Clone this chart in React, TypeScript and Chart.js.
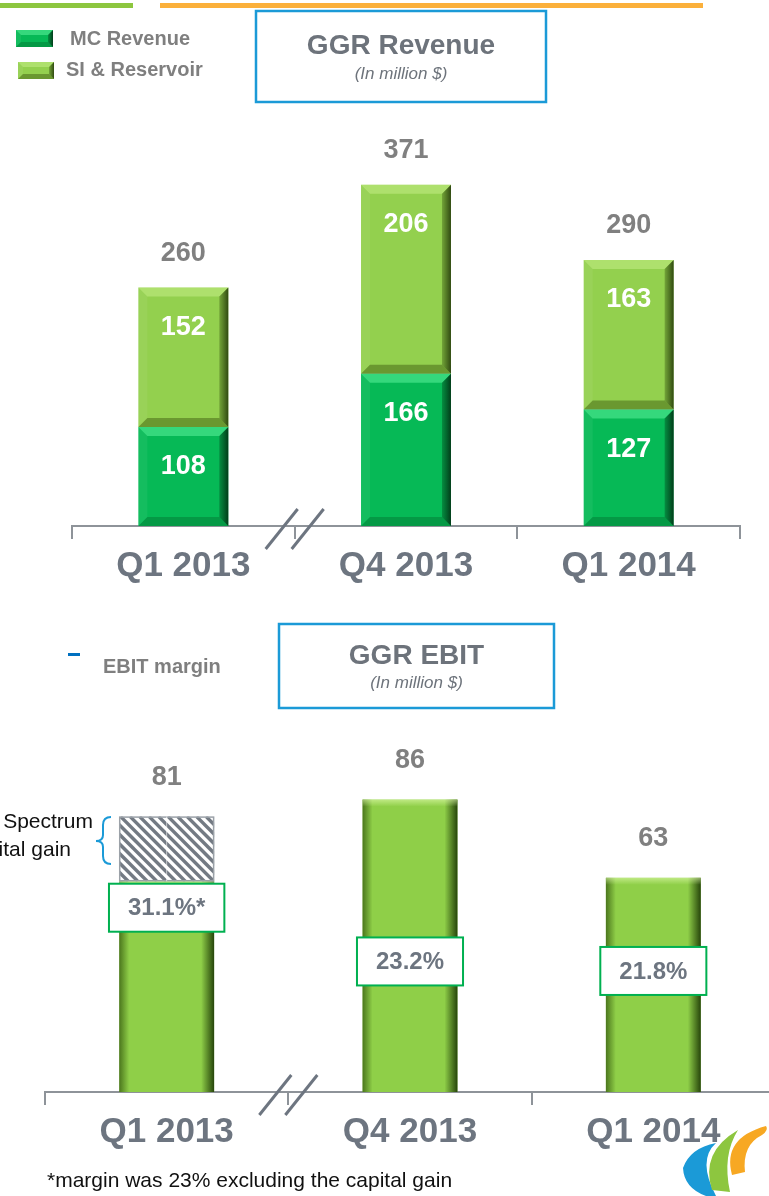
import React, { useEffect, useRef } from "react";
import { Chart, registerables } from "chart.js";

Chart.register(...registerables);

// ---------- data ----------
const quarters = ["Q1 2013", "Q4 2013", "Q1 2014"];
const mcRevenue = [108, 166, 127];
const siReservoir = [152, 206, 163];
const revenueTotals = [260, 371, 290];
const ebitCore = [62, 86, 63];
const ebitCapitalGain = [19, 0, 0];
const ebitTotals = [81, 86, 63];
const ebitMargin = [31.1, 23.2, 21.8];
const ebitMarginLabels = ["31.1%*", "23.2%", "21.8%"];
const revenueLegend = ["MC Revenue", "SI & Reservoir"];
const ebitLegend = ["EBIT margin"];
const revenueTitle = ["GGR Revenue", "(In million $)"];
const ebitTitle = ["GGR EBIT", "(In million $)"];
const capitalGainNote = ["Spectrum", "Capital gain"];
const footnote = "*margin was 23% excluding the capital gain";

// ---------- styles ----------
const FONT = '"Liberation Sans", Arial, Helvetica, sans-serif';
const AXIS_GRAY = "#8e9399";
const LABEL_GRAY = "#6d7580";
const VALUE_GRAY = "#808080";
const LEGEND_GRAY = "#7f7f7f";
const MC_GREEN = "#06b956";
const SI_GREEN = "#93d04e";
const EBIT_GREEN = "#8fcf48";
const BLUE = "#1b9ad7";
const BOX_GREEN = "#00b050";

const MC_BEVEL = {
  top: "rgba(110,255,170,0.45)",
  left: "rgba(255,255,255,0.06)",
  bottom: "rgba(0,40,10,0.22)",
  right0: "rgba(0,40,15,0.30)",
  right1: "rgba(0,25,8,0.78)",
};
const SI_BEVEL = {
  top: "rgba(225,255,170,0.35)",
  left: "rgba(255,255,255,0.06)",
  bottom: "rgba(40,60,0,0.38)",
  right0: "rgba(30,50,0,0.28)",
  right1: "rgba(20,35,0,0.78)",
};

function barBox(el: any) {
  const p = el.getProps(["x", "y", "base", "width"], true);
  const l = p.x - p.width / 2;
  const r = p.x + p.width / 2;
  const t = Math.min(p.y, p.base);
  const b = Math.max(p.y, p.base);
  return { l, r, t, b, cx: p.x };
}

function bevel(ctx: CanvasRenderingContext2D, l: number, t: number, r: number, b: number, s: number, o: any) {
  const h = b - t;
  if (h <= 0.5) return;
  const ss = Math.min(s, h / 2, (r - l) / 2);
  ctx.save();
  ctx.fillStyle = o.top;
  ctx.beginPath();
  ctx.moveTo(l, t); ctx.lineTo(r, t); ctx.lineTo(r - ss, t + ss); ctx.lineTo(l + ss, t + ss);
  ctx.closePath(); ctx.fill();
  ctx.fillStyle = o.left;
  ctx.beginPath();
  ctx.moveTo(l, t); ctx.lineTo(l + ss, t + ss); ctx.lineTo(l + ss, b - ss); ctx.lineTo(l, b);
  ctx.closePath(); ctx.fill();
  ctx.fillStyle = o.bottom;
  ctx.beginPath();
  ctx.moveTo(l, b); ctx.lineTo(l + ss, b - ss); ctx.lineTo(r - ss, b - ss); ctx.lineTo(r, b);
  ctx.closePath(); ctx.fill();
  const g = ctx.createLinearGradient(r - ss, 0, r, 0);
  g.addColorStop(0, o.right0);
  g.addColorStop(1, o.right1);
  ctx.fillStyle = g;
  ctx.beginPath();
  ctx.moveTo(r, t); ctx.lineTo(r, b); ctx.lineTo(r - ss, b - ss); ctx.lineTo(r - ss, t + ss);
  ctx.closePath(); ctx.fill();
  ctx.restore();
}

function text(ctx: CanvasRenderingContext2D, s: string, x: number, y: number, font: string, color: string, align: CanvasTextAlign = "center") {
  ctx.save();
  ctx.font = font;
  ctx.fillStyle = color;
  ctx.textAlign = align;
  ctx.textBaseline = "middle";
  ctx.fillText(s, x, y);
  ctx.restore();
}

function breakMarks(ctx: CanvasRenderingContext2D, cx: number, axisY: number) {
  ctx.save();
  ctx.strokeStyle = LABEL_GRAY;
  ctx.lineWidth = 3;
  [-13, 13].forEach((d) => {
    ctx.beginPath();
    ctx.moveTo(cx + d - 16, axisY + 23);
    ctx.lineTo(cx + d + 16, axisY - 17);
    ctx.stroke();
  });
  ctx.restore();
}

function titleBox(ctx: CanvasRenderingContext2D, x: number, y: number, w: number, h: number, lines: string[]) {
  ctx.save();
  ctx.fillStyle = "#ffffff";
  ctx.fillRect(x, y, w, h);
  ctx.strokeStyle = BLUE;
  ctx.lineWidth = 2.5;
  ctx.strokeRect(x, y, w, h);
  ctx.restore();
  const cx = x + w / 2;
  text(ctx, lines[0], cx, y + h * 0.39, `bold 28px ${FONT}`, "#6d737b");
  text(ctx, lines[1], cx, y + h * 0.7, `italic 17px ${FONT}`, "#6d737b");
}

function xAxisOptions() {
  return {
    stacked: true,
    offset: true,
    grid: { offset: true, drawOnChartArea: false, drawTicks: true, tickLength: 13, color: AXIS_GRAY, lineWidth: 2 },
    border: { display: true, color: AXIS_GRAY, width: 2 },
    ticks: {
      font: { family: FONT, size: 35, weight: "bold" },
      color: LABEL_GRAY,
      padding: 6,
      autoSkip: false,
      maxRotation: 0,
    },
  };
}

export default function App() {
  const topRef = useRef<HTMLCanvasElement>(null);
  const botRef = useRef<HTMLCanvasElement>(null);

  useEffect(() => {
    // ---------- revenue chart ----------
    const revenuePlugin = {
      id: "revenueDecor",
      afterDatasetsDraw(chart: any) {
        const ctx = chart.ctx;
        [0, 1].forEach((di) => {
          const meta = chart.getDatasetMeta(di);
          meta.data.forEach((el: any) => {
            const bx = barBox(el);
            bevel(ctx, bx.l, bx.t, bx.r, bx.b, 9, di === 0 ? MC_BEVEL : SI_BEVEL);
          });
        });
      },
      afterDraw(chart: any) {
        const ctx = chart.ctx;
        // header rules
        ctx.fillStyle = "#8dc63f";
        ctx.fillRect(0, 3, 133, 5);
        ctx.fillStyle = "#fbb03b";
        ctx.fillRect(160, 3, 543, 5);
        // legend
        ctx.fillStyle = MC_GREEN;
        ctx.fillRect(16, 30, 37, 17);
        bevel(ctx, 16, 30, 53, 47, 5, MC_BEVEL);
        ctx.fillStyle = SI_GREEN;
        ctx.fillRect(18, 62, 36, 17);
        bevel(ctx, 18, 62, 54, 79, 5, SI_BEVEL);
        text(ctx, revenueLegend[0], 70, 39, `bold 20px ${FONT}`, LEGEND_GRAY, "left");
        text(ctx, revenueLegend[1], 66, 70, `bold 20px ${FONT}`, LEGEND_GRAY, "left");
        // title
        titleBox(ctx, 256, 11, 290, 91, revenueTitle);
        // segment values
        const m0 = chart.getDatasetMeta(0);
        const m1 = chart.getDatasetMeta(1);
        const series = [mcRevenue, siReservoir];
        [m0, m1].forEach((meta: any, di: number) => {
          meta.data.forEach((el: any, i: number) => {
            const bx = barBox(el);
            text(ctx, String(series[di][i]), bx.cx, bx.t + 40, `bold 27px ${FONT}`, "#ffffff");
          });
        });
        // totals
        m1.data.forEach((el: any, i: number) => {
          const bx = barBox(el);
          text(ctx, String(revenueTotals[i]), bx.cx, bx.t - 34, `bold 27px ${FONT}`, VALUE_GRAY);
        });
        // break marks
        const xs = chart.scales.x;
        const cx = (xs.getPixelForValue(0) + xs.getPixelForValue(1)) / 2;
        breakMarks(ctx, cx, chart.chartArea.bottom);
      },
    };

    const topChart = new Chart(topRef.current as HTMLCanvasElement, {
      type: "bar",
      data: {
        labels: quarters,
        datasets: [
          { label: revenueLegend[0], data: mcRevenue, backgroundColor: MC_GREEN, borderWidth: 0 },
          { label: revenueLegend[1], data: siReservoir, backgroundColor: SI_GREEN, borderWidth: 0 },
        ],
      },
      options: {
        animation: false,
        responsive: false,
        maintainAspectRatio: false,
        devicePixelRatio: 1,
        layout: { padding: { top: 159, left: 72, right: 29, bottom: 0 } },
        plugins: { legend: { display: false }, tooltip: { enabled: false } },
        datasets: { bar: { categoryPercentage: 1, barPercentage: 0.404 } },
        scales: {
          x: { ...xAxisOptions(), afterFit: (s: any) => { s.height = 74; } },
          y: { stacked: true, display: false, min: 0, max: 400 },
        },
      } as any,
      plugins: [revenuePlugin],
    });

    // ---------- EBIT chart ----------
    const botCanvas = botRef.current as HTMLCanvasElement;

    const ebitPlugin = {
      id: "ebitDecor",
      afterDatasetsDraw(chart: any) {
        const ctx = chart.ctx;
        chart.getDatasetMeta(0).data.forEach((el: any) => {
          const { l, r, t, b } = barBox(el);
          if (b - t < 1) return;
          ctx.save();
          const gl = ctx.createLinearGradient(l, 0, l + 10, 0);
          gl.addColorStop(0, "rgba(30,60,0,0.6)");
          gl.addColorStop(1, "rgba(30,60,0,0)");
          ctx.fillStyle = gl;
          ctx.fillRect(l, t, 10, b - t);
          const gr = ctx.createLinearGradient(r - 13, 0, r, 0);
          gr.addColorStop(0, "rgba(20,45,0,0)");
          gr.addColorStop(1, "rgba(20,45,0,0.85)");
          ctx.fillStyle = gr;
          ctx.fillRect(r - 13, t, 13, b - t);
          const gt = ctx.createLinearGradient(0, t, 0, t + 7);
          gt.addColorStop(0, "rgba(230,255,180,0.55)");
          gt.addColorStop(1, "rgba(230,255,180,0)");
          ctx.fillStyle = gt;
          ctx.fillRect(l, t, r - l, 7);
          ctx.restore();
        });
        // hatched capital gain segment
        chart.getDatasetMeta(1).data.forEach((el: any) => {
          const { l, r, t, b } = barBox(el);
          if (b - t < 1) return;
          ctx.save();
          ctx.beginPath();
          ctx.rect(l, t, r - l, b - t);
          ctx.clip();
          ctx.fillStyle = "#ffffff";
          ctx.fillRect(l, t, r - l, b - t);
          ctx.strokeStyle = "#737a83";
          ctx.lineWidth = 3.4;
          const h = b - t;
          for (let x0 = l - h - 10; x0 < r + 10; x0 += 9.5) {
            ctx.beginPath();
            ctx.moveTo(x0, t);
            ctx.lineTo(x0 + h, b);
            ctx.stroke();
          }
          ctx.restore();
          ctx.save();
          ctx.strokeStyle = "#9ba1a8";
          ctx.lineWidth = 1.5;
          ctx.strokeRect(l + 0.5, t + 0.5, r - l - 1, b - t - 1);
          ctx.strokeStyle = "rgba(255,255,255,0.6)";
          ctx.lineWidth = 1;
          ctx.beginPath();
          ctx.moveTo((l + r) / 2, t);
          ctx.lineTo((l + r) / 2, b);
          ctx.stroke();
          ctx.restore();
        });
      },
      afterDraw(chart: any) {
        const ctx = chart.ctx;
        // legend
        ctx.fillStyle = "#0070c0";
        ctx.fillRect(68, 53, 12, 3);
        text(ctx, ebitLegend[0], 103, 67, `bold 20px ${FONT}`, LEGEND_GRAY, "left");
        // title
        titleBox(ctx, 279, 24, 275, 84, ebitTitle);
        // totals
        const m0 = chart.getDatasetMeta(0);
        const m1 = chart.getDatasetMeta(1);
        m0.data.forEach((el: any, i: number) => {
          const a = barBox(el);
          const c = barBox(m1.data[i]);
          const top = Math.min(a.t, c.t);
          text(ctx, String(ebitTotals[i]), a.cx, top - 39, `bold 27px ${FONT}`, VALUE_GRAY);
        });
        // margin boxes
        const m2 = chart.getDatasetMeta(2);
        m2.data.forEach((pt: any, i: number) => {
          const { x, y } = pt.getProps(["x", "y"], true);
          ctx.save();
          ctx.font = `bold 24px ${FONT}`;
          const w = ctx.measureText(ebitMarginLabels[i]).width + 38;
          const h = 48;
          ctx.fillStyle = "#ffffff";
          ctx.fillRect(x - w / 2, y - h / 2, w, h);
          ctx.strokeStyle = BOX_GREEN;
          ctx.lineWidth = 2;
          ctx.strokeRect(x - w / 2, y - h / 2, w, h);
          ctx.restore();
          text(ctx, ebitMarginLabels[i], x, y + 1, `bold 24px ${FONT}`, LABEL_GRAY);
        });
        // capital gain note + brace
        text(ctx, capitalGainNote[0], 93, 222, `21px ${FONT}`, "#111111", "right");
        text(ctx, capitalGainNote[1], 71, 250, `21px ${FONT}`, "#111111", "right");
        ctx.save();
        ctx.strokeStyle = BLUE;
        ctx.lineWidth = 2;
        ctx.beginPath();
        ctx.moveTo(111, 217);
        ctx.quadraticCurveTo(103, 217, 103, 225);
        ctx.lineTo(103, 235);
        ctx.quadraticCurveTo(103, 241, 96, 241);
        ctx.quadraticCurveTo(103, 241, 103, 247);
        ctx.lineTo(103, 256);
        ctx.quadraticCurveTo(103, 264, 111, 264);
        ctx.stroke();
        ctx.restore();
        // break marks
        const xs = chart.scales.x;
        const cx = (xs.getPixelForValue(0) + xs.getPixelForValue(1)) / 2;
        breakMarks(ctx, cx, chart.chartArea.bottom);
        // footnote
        text(ctx, footnote, 47, 581, `21px ${FONT}`, "#111111", "left");
        // logo
        ctx.save();
        ctx.fillStyle = "#1b9ad7";
        ctx.beginPath();
        ctx.moveTo(683, 568);
        ctx.quadraticCurveTo(690, 548, 716, 543);
        ctx.quadraticCurveTo(697, 560, 716, 596);
        ctx.lineTo(706, 596);
        ctx.quadraticCurveTo(684, 588, 683, 568);
        ctx.closePath();
        ctx.fill();
        ctx.fillStyle = "#8dc63f";
        ctx.beginPath();
        ctx.moveTo(712, 590);
        ctx.quadraticCurveTo(700, 552, 738, 530);
        ctx.quadraticCurveTo(722, 555, 730, 592);
        ctx.closePath();
        ctx.fill();
        ctx.fillStyle = "#f7a823";
        ctx.beginPath();
        ctx.moveTo(732, 575);
        ctx.quadraticCurveTo(722, 538, 766, 526);
        ctx.quadraticCurveTo(769, 530, 762, 535);
        ctx.quadraticCurveTo(742, 545, 745, 572);
        ctx.closePath();
        ctx.fill();
        ctx.restore();
      },
    };

    const botChart = new Chart(botCanvas, {
      type: "bar",
      data: {
        labels: quarters,
        datasets: [
          { label: "EBIT", data: ebitCore, backgroundColor: EBIT_GREEN, borderWidth: 0, yAxisID: "y" },
          { label: "Capital gain", data: ebitCapitalGain, backgroundColor: "#ffffff", borderWidth: 0, yAxisID: "y" },
          {
            type: "line",
            label: ebitLegend[0],
            data: ebitMargin,
            yAxisID: "y2",
            showLine: false,
            pointRadius: 0,
            borderColor: "#0070c0",
          } as any,
        ],
      },
      options: {
        animation: false,
        responsive: false,
        maintainAspectRatio: false,
        devicePixelRatio: 1,
        layout: { padding: { top: 152, left: 45, right: 15, bottom: 0 } },
        plugins: { legend: { display: false }, tooltip: { enabled: false } },
        datasets: { bar: { categoryPercentage: 1, barPercentage: 0.39 } },
        scales: {
          x: { ...xAxisOptions(), afterFit: (s: any) => { s.height = 104; } },
          y: { stacked: true, display: false, min: 0, max: 100 },
          y2: { display: false, min: 4, max: 54 },
        },
      } as any,
      plugins: [ebitPlugin],
    });

    return () => {
      topChart.destroy();
      botChart.destroy();
    };
  }, []);

  return (
    <div style={{ position: "absolute", left: 0, top: 0, width: 769, height: 1196, overflow: "hidden", background: "#ffffff" }}>
      <canvas ref={topRef} width={769} height={600} style={{ position: "absolute", left: 0, top: 0, width: 769, height: 600 }} />
      <canvas ref={botRef} width={790} height={596} style={{ position: "absolute", left: 0, top: 600, width: 790, height: 596 }} />
    </div>
  );
}
